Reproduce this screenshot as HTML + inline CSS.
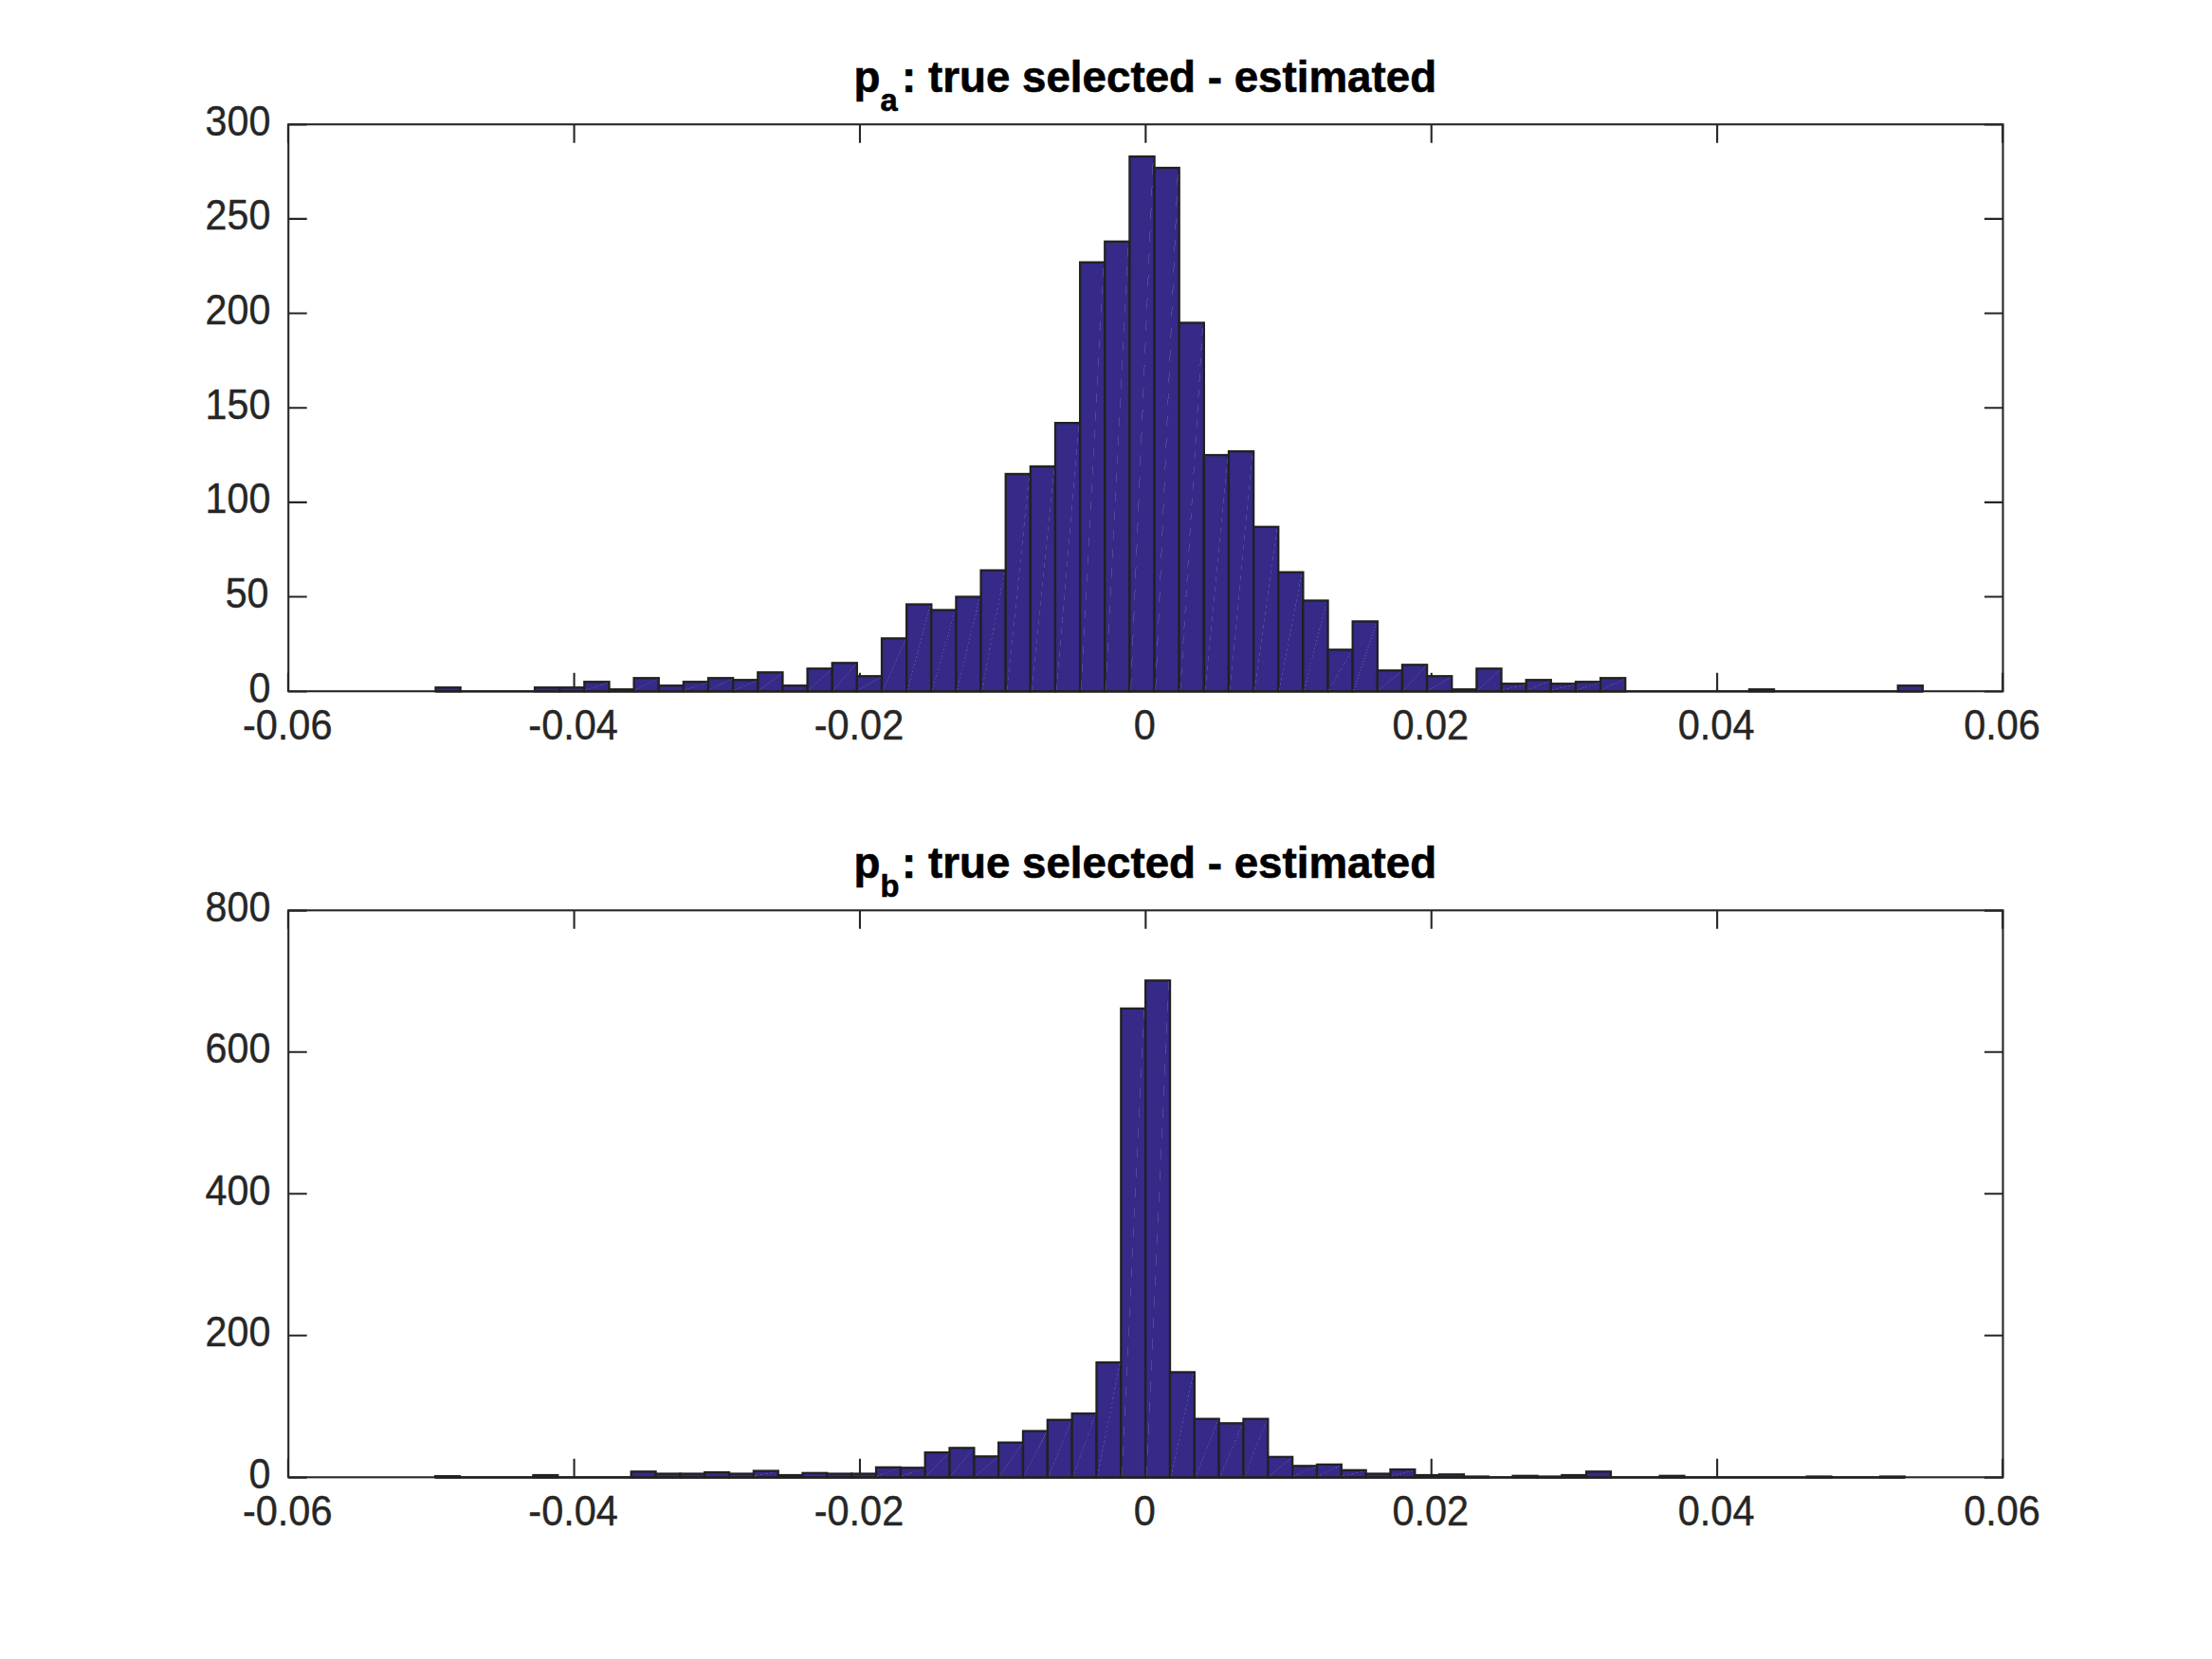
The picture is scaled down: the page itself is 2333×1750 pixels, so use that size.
<!DOCTYPE html>
<html lang="en"><head><meta charset="utf-8"><title>p_a, p_b: true selected - estimated</title>
<style>html,body{margin:0;padding:0;background:#fff}body{width:2333px;height:1750px;overflow:hidden}svg{display:block;font-family:"Liberation Sans",Arial,Helvetica,sans-serif}</style></head><body>
<svg width="2333" height="1750" viewBox="0 0 2333 1750">
<rect width="2333" height="1750" fill="#fff"/>
<g>
<path d="M605.58 729.2v-19.5M605.58 131.2v19.5M906.97 729.2v-19.5M906.97 131.2v19.5M1208.35 729.2v-19.5M1208.35 131.2v19.5M1509.73 729.2v-19.5M1509.73 131.2v19.5M1811.12 729.2v-19.5M1811.12 131.2v19.5M303.9 729.2v-19.5M303.9 131.2v19.5M2112.2 729.2v-19.5M2112.2 131.2v19.5M304.2 131.5h19.5M2112.5 131.5h-19.5M304.2 729.5h19.5M2112.5 729.5h-19.5M304.2 629.53h19.5M2112.5 629.53h-19.5M304.2 529.87h19.5M2112.5 529.87h-19.5M304.2 430.2h19.5M2112.5 430.2h-19.5M304.2 330.53h19.5M2112.5 330.53h-19.5M304.2 230.87h19.5M2112.5 230.87h-19.5" stroke="#262626" stroke-width="2.1" fill="none"/>
<rect x="304.2" y="131.2" width="1808.3" height="598" fill="none" stroke="#262626" stroke-width="2.1"/>
<g fill="#352a87" stroke="#212121" stroke-width="2.3" stroke-linejoin="miter">
<path d="M459.5 729.4h1568.4" fill="none"/>
<rect x="459.5" y="725.21" width="26.14" height="3.99"/>
<rect x="564.06" y="725.21" width="26.14" height="3.99"/>
<rect x="590.2" y="725.21" width="26.14" height="3.99"/>
<rect x="616.34" y="719.23" width="26.14" height="9.97"/>
<rect x="642.48" y="727.21" width="26.14" height="1.99"/>
<rect x="668.62" y="715.25" width="26.14" height="13.95"/>
<rect x="694.76" y="723.22" width="26.14" height="5.98"/>
<rect x="720.9" y="719.23" width="26.14" height="9.97"/>
<rect x="747.04" y="715.25" width="26.14" height="13.95"/>
<rect x="773.18" y="717.24" width="26.14" height="11.96"/>
<rect x="799.32" y="709.27" width="26.14" height="19.93"/>
<rect x="825.46" y="723.22" width="26.14" height="5.98"/>
<rect x="851.6" y="705.28" width="26.14" height="23.92"/>
<rect x="877.74" y="699.3" width="26.14" height="29.9"/>
<rect x="903.88" y="713.25" width="26.14" height="15.95"/>
<rect x="930.02" y="673.39" width="26.14" height="55.81"/>
<rect x="956.16" y="637.51" width="26.14" height="91.69"/>
<rect x="982.3" y="643.49" width="26.14" height="85.71"/>
<rect x="1008.44" y="629.53" width="26.14" height="99.67"/>
<rect x="1034.58" y="601.63" width="26.14" height="127.57"/>
<rect x="1060.72" y="499.97" width="26.14" height="229.23"/>
<rect x="1086.86" y="491.99" width="26.14" height="237.21"/>
<rect x="1113" y="446.15" width="26.14" height="283.05"/>
<rect x="1139.14" y="276.71" width="26.14" height="452.49"/>
<rect x="1165.28" y="254.79" width="26.14" height="474.41"/>
<rect x="1191.42" y="165.09" width="26.14" height="564.11"/>
<rect x="1217.56" y="177.05" width="26.14" height="552.15"/>
<rect x="1243.7" y="340.5" width="26.14" height="388.7"/>
<rect x="1269.84" y="480.03" width="26.14" height="249.17"/>
<rect x="1295.98" y="476.05" width="26.14" height="253.15"/>
<rect x="1322.12" y="555.78" width="26.14" height="173.42"/>
<rect x="1348.26" y="603.62" width="26.14" height="125.58"/>
<rect x="1374.4" y="633.52" width="26.14" height="95.68"/>
<rect x="1400.54" y="685.35" width="26.14" height="43.85"/>
<rect x="1426.68" y="655.45" width="26.14" height="73.75"/>
<rect x="1452.82" y="707.27" width="26.14" height="21.93"/>
<rect x="1478.96" y="701.29" width="26.14" height="27.91"/>
<rect x="1505.1" y="713.25" width="26.14" height="15.95"/>
<rect x="1531.24" y="727.21" width="26.14" height="1.99"/>
<rect x="1557.38" y="705.28" width="26.14" height="23.92"/>
<rect x="1583.52" y="721.23" width="26.14" height="7.97"/>
<rect x="1609.66" y="717.24" width="26.14" height="11.96"/>
<rect x="1635.8" y="721.23" width="26.14" height="7.97"/>
<rect x="1661.94" y="719.23" width="26.14" height="9.97"/>
<rect x="1688.08" y="715.25" width="26.14" height="13.95"/>
<rect x="1844.92" y="727.21" width="26.14" height="1.99"/>
<rect x="2001.76" y="723.22" width="26.14" height="5.98"/>
</g>
<g stroke="#fff" stroke-opacity="0.14" stroke-width="1" fill="none" shape-rendering="crispEdges">
<path d="M617.54 728L641.28 720.43" stroke-dasharray="1.65 1.65"/>
<path d="M669.82 728L693.56 716.45" stroke-dasharray="1.14 1.14"/>
<path d="M722.1 728L745.84 720.43" stroke-dasharray="1.65 1.65"/>
<path d="M748.24 728L771.98 716.45" stroke-dasharray="1.14 1.14"/>
<path d="M774.38 728L798.12 718.44" stroke-dasharray="1.34 1.34"/>
<path d="M800.52 728L824.26 710.47" shape-rendering="auto" stroke-width="0.8"/>
<path d="M852.8 728L876.54 706.48" shape-rendering="auto" stroke-width="0.8"/>
<path d="M878.94 728L902.68 700.5" shape-rendering="auto" stroke-width="0.8"/>
<path d="M905.08 728L928.82 714.45" shape-rendering="auto" stroke-width="0.8"/>
<path d="M931.22 728L954.96 674.59" stroke-dasharray="1.23 1.23"/>
<path d="M957.36 728L981.1 638.71" stroke-dasharray="1.95 1.95"/>
<path d="M983.5 728L1007.24 644.69" stroke-dasharray="1.82 1.82"/>
<path d="M1009.64 728L1033.38 630.73" stroke-dasharray="2.11 2.11"/>
<path d="M1035.78 728L1059.52 602.83" stroke-dasharray="2.68 2.68"/>
<path d="M1061.92 728L1085.66 501.17" stroke-dasharray="4.8 4.8"/>
<path d="M1088.06 728L1111.8 493.19" stroke-dasharray="4.97 4.97"/>
<path d="M1114.2 728L1137.94 447.35" stroke-dasharray="5.93 5.93"/>
<path d="M1140.34 728L1164.08 277.91" stroke-dasharray="9.49 9.49"/>
<path d="M1166.48 728L1190.22 255.99" stroke-dasharray="9.95 9.95"/>
<path d="M1192.62 728L1216.36 166.29" stroke-dasharray="11.84 11.84"/>
<path d="M1218.76 728L1242.5 178.25" stroke-dasharray="11.59 11.59"/>
<path d="M1244.9 728L1268.64 341.7" stroke-dasharray="8.15 8.15"/>
<path d="M1271.04 728L1294.78 481.23" stroke-dasharray="5.22 5.22"/>
<path d="M1297.18 728L1320.92 477.25" stroke-dasharray="5.3 5.3"/>
<path d="M1323.32 728L1347.06 556.98" stroke-dasharray="3.64 3.64"/>
<path d="M1349.46 728L1373.2 604.82" stroke-dasharray="2.64 2.64"/>
<path d="M1375.6 728L1399.34 634.72" stroke-dasharray="2.03 2.03"/>
<path d="M1401.74 728L1425.48 686.55" stroke-dasharray="1.01 1.01"/>
<path d="M1427.88 728L1451.62 656.65" stroke-dasharray="1.58 1.58"/>
<path d="M1454.02 728L1477.76 708.47" shape-rendering="auto" stroke-width="0.8"/>
<path d="M1480.16 728L1503.9 702.49" shape-rendering="auto" stroke-width="0.8"/>
<path d="M1506.3 728L1530.04 714.45" shape-rendering="auto" stroke-width="0.8"/>
<path d="M1558.58 728L1582.32 706.48" shape-rendering="auto" stroke-width="0.8"/>
<path d="M1584.72 728L1608.46 722.43" stroke-dasharray="2.19 2.19"/>
<path d="M1610.86 728L1634.6 718.44" stroke-dasharray="1.34 1.34"/>
<path d="M1637 728L1660.74 722.43" stroke-dasharray="2.19 2.19"/>
<path d="M1663.14 728L1686.88 720.43" stroke-dasharray="1.65 1.65"/>
<path d="M1689.28 728L1713.02 716.45" stroke-dasharray="1.14 1.14"/>
</g>
<g font-size="44.3" fill="#262626" stroke="#262626" stroke-width="0.4">
<g text-anchor="middle">
<text transform="translate(303.2 779.8) scale(0.936 1)">-0.06</text>
<text transform="translate(604.58 779.8) scale(0.936 1)">-0.04</text>
<text transform="translate(905.97 779.8) scale(0.936 1)">-0.02</text>
<text transform="translate(1207.35 779.8) scale(0.936 1)">0</text>
<text transform="translate(1508.73 779.8) scale(0.936 1)">0.02</text>
<text transform="translate(1810.12 779.8) scale(0.936 1)">0.04</text>
<text transform="translate(2111.5 779.8) scale(0.936 1)">0.06</text>
</g><g text-anchor="end">
<text transform="translate(285.3 740.8) scale(0.93 1)">0</text>
<text transform="translate(283.5 641.13) scale(0.93 1)">50</text>
<text transform="translate(285.3 541.47) scale(0.93 1)">100</text>
<text transform="translate(285.3 441.8) scale(0.93 1)">150</text>
<text transform="translate(285.3 342.13) scale(0.93 1)">200</text>
<text transform="translate(285.3 242.47) scale(0.93 1)">250</text>
<text transform="translate(285.3 142.8) scale(0.93 1)">300</text>
</g></g>
<g font-weight="bold" fill="#000" stroke="#000" stroke-width="0.6" font-size="46.2">
<text transform="translate(900.5 96.5) scale(0.99 1)">p</text>
<text transform="translate(928.5 116.7) scale(0.99 1)" font-size="33.0">a</text>
<text transform="translate(951 96.5) scale(0.99 1)">: true selected - estimated</text>
</g>
</g>
<g>
<path d="M605.58 1558.3v-19.5M605.58 960.3v19.5M906.97 1558.3v-19.5M906.97 960.3v19.5M1208.35 1558.3v-19.5M1208.35 960.3v19.5M1509.73 1558.3v-19.5M1509.73 960.3v19.5M1811.12 1558.3v-19.5M1811.12 960.3v19.5M303.9 1558.3v-19.5M303.9 960.3v19.5M2112.2 1558.3v-19.5M2112.2 960.3v19.5M304.2 960.6h19.5M2112.5 960.6h-19.5M304.2 1558.6h19.5M2112.5 1558.6h-19.5M304.2 1408.8h19.5M2112.5 1408.8h-19.5M304.2 1259.3h19.5M2112.5 1259.3h-19.5M304.2 1109.8h19.5M2112.5 1109.8h-19.5" stroke="#262626" stroke-width="2.1" fill="none"/>
<rect x="304.2" y="960.3" width="1808.3" height="598" fill="none" stroke="#262626" stroke-width="2.1"/>
<g fill="#352a87" stroke="#212121" stroke-width="2.3" stroke-linejoin="miter">
<path d="M459.1 1558.5h1549.8" fill="none"/>
<rect x="459.1" y="1557.18" width="25.83" height="1.12"/>
<rect x="562.42" y="1556.06" width="25.83" height="2.24"/>
<rect x="665.74" y="1552.32" width="25.83" height="5.98"/>
<rect x="691.57" y="1554.56" width="25.83" height="3.74"/>
<rect x="717.4" y="1554.56" width="25.83" height="3.74"/>
<rect x="743.23" y="1553.07" width="25.83" height="5.23"/>
<rect x="769.06" y="1554.56" width="25.83" height="3.74"/>
<rect x="794.89" y="1551.57" width="25.83" height="6.73"/>
<rect x="820.72" y="1556.06" width="25.83" height="2.24"/>
<rect x="846.55" y="1553.82" width="25.83" height="4.48"/>
<rect x="872.38" y="1554.56" width="25.83" height="3.74"/>
<rect x="898.21" y="1554.56" width="25.83" height="3.74"/>
<rect x="924.04" y="1547.84" width="25.83" height="10.46"/>
<rect x="949.87" y="1548.28" width="25.83" height="10.02"/>
<rect x="975.7" y="1532.14" width="25.83" height="26.16"/>
<rect x="1001.53" y="1527.35" width="25.83" height="30.95"/>
<rect x="1027.36" y="1536.32" width="25.83" height="21.98"/>
<rect x="1053.19" y="1521.67" width="25.83" height="36.63"/>
<rect x="1079.02" y="1509.56" width="25.83" height="48.74"/>
<rect x="1104.85" y="1497.75" width="25.83" height="60.55"/>
<rect x="1130.68" y="1491.02" width="25.83" height="67.28"/>
<rect x="1156.51" y="1437.2" width="25.83" height="121.1"/>
<rect x="1182.34" y="1063.83" width="25.83" height="494.47"/>
<rect x="1208.17" y="1034.3" width="25.83" height="524"/>
<rect x="1234" y="1447.45" width="25.83" height="110.85"/>
<rect x="1259.83" y="1496.71" width="25.83" height="61.59"/>
<rect x="1285.66" y="1501.34" width="25.83" height="56.96"/>
<rect x="1311.49" y="1496.71" width="25.83" height="61.59"/>
<rect x="1337.32" y="1536.85" width="25.83" height="21.45"/>
<rect x="1363.15" y="1546.34" width="25.83" height="11.96"/>
<rect x="1388.98" y="1544.85" width="25.83" height="13.45"/>
<rect x="1414.81" y="1550.83" width="25.83" height="7.47"/>
<rect x="1440.64" y="1554.56" width="25.83" height="3.74"/>
<rect x="1466.47" y="1550.08" width="25.83" height="8.22"/>
<rect x="1492.3" y="1556.06" width="25.83" height="2.24"/>
<rect x="1518.13" y="1555.31" width="25.83" height="2.99"/>
<rect x="1543.96" y="1557.55" width="25.83" height="0.75"/>
<rect x="1595.62" y="1556.81" width="25.83" height="1.49"/>
<rect x="1621.45" y="1557.55" width="25.83" height="0.75"/>
<rect x="1647.28" y="1556.06" width="25.83" height="2.24"/>
<rect x="1673.11" y="1552.32" width="25.83" height="5.98"/>
<rect x="1750.6" y="1556.81" width="25.83" height="1.49"/>
<rect x="1905.58" y="1557.55" width="25.83" height="0.75"/>
<rect x="1983.07" y="1557.55" width="25.83" height="0.75"/>
</g>
<g stroke="#fff" stroke-opacity="0.14" stroke-width="1" fill="none" shape-rendering="crispEdges">
<path d="M796.09 1557.1L819.52 1552.77" stroke-dasharray="2.75 2.75"/>
<path d="M925.24 1557.1L948.67 1549.04" stroke-dasharray="1.54 1.54"/>
<path d="M951.07 1557.1L974.5 1549.48" stroke-dasharray="1.62 1.62"/>
<path d="M976.9 1557.1L1000.33 1533.34" shape-rendering="auto" stroke-width="0.8"/>
<path d="M1002.73 1557.1L1026.16 1528.55" shape-rendering="auto" stroke-width="0.8"/>
<path d="M1028.56 1557.1L1051.99 1537.52" shape-rendering="auto" stroke-width="0.8"/>
<path d="M1054.39 1557.1L1077.82 1522.87" shape-rendering="auto" stroke-width="0.8"/>
<path d="M1080.22 1557.1L1103.65 1510.76" stroke-dasharray="1.11 1.11"/>
<path d="M1106.05 1557.1L1129.48 1498.95" stroke-dasharray="1.34 1.34"/>
<path d="M1131.88 1557.1L1155.31 1492.22" stroke-dasharray="1.47 1.47"/>
<path d="M1157.71 1557.1L1181.14 1438.4" stroke-dasharray="2.58 2.58"/>
<path d="M1183.54 1557.1L1206.97 1065.03" stroke-dasharray="10.51 10.51"/>
<path d="M1209.37 1557.1L1232.8 1035.5" stroke-dasharray="11.14 11.14"/>
<path d="M1235.2 1557.1L1258.63 1448.65" stroke-dasharray="2.37 2.37"/>
<path d="M1261.03 1557.1L1284.46 1497.91" stroke-dasharray="1.36 1.36"/>
<path d="M1286.86 1557.1L1310.29 1502.54" stroke-dasharray="1.27 1.27"/>
<path d="M1312.69 1557.1L1336.12 1497.91" stroke-dasharray="1.36 1.36"/>
<path d="M1338.52 1557.1L1361.95 1538.05" shape-rendering="auto" stroke-width="0.8"/>
<path d="M1364.35 1557.1L1387.78 1547.54" stroke-dasharray="1.32 1.32"/>
<path d="M1390.18 1557.1L1413.61 1546.05" stroke-dasharray="1.17 1.17"/>
<path d="M1416.01 1557.1L1439.44 1552.03" stroke-dasharray="2.36 2.36"/>
<path d="M1467.67 1557.1L1491.1 1551.28" stroke-dasharray="2.07 2.07"/>
</g>
<g font-size="44.3" fill="#262626" stroke="#262626" stroke-width="0.4">
<g text-anchor="middle">
<text transform="translate(303.2 1608.9) scale(0.936 1)">-0.06</text>
<text transform="translate(604.58 1608.9) scale(0.936 1)">-0.04</text>
<text transform="translate(905.97 1608.9) scale(0.936 1)">-0.02</text>
<text transform="translate(1207.35 1608.9) scale(0.936 1)">0</text>
<text transform="translate(1508.73 1608.9) scale(0.936 1)">0.02</text>
<text transform="translate(1810.12 1608.9) scale(0.936 1)">0.04</text>
<text transform="translate(2111.5 1608.9) scale(0.936 1)">0.06</text>
</g><g text-anchor="end">
<text transform="translate(285.3 1569.9) scale(0.93 1)">0</text>
<text transform="translate(285.3 1420.4) scale(0.93 1)">200</text>
<text transform="translate(285.3 1270.9) scale(0.93 1)">400</text>
<text transform="translate(285.3 1121.4) scale(0.93 1)">600</text>
<text transform="translate(285.3 971.9) scale(0.93 1)">800</text>
</g></g>
<g font-weight="bold" fill="#000" stroke="#000" stroke-width="0.6" font-size="46.2">
<text transform="translate(900.5 925.6) scale(0.99 1)">p</text>
<text transform="translate(928.5 945.8) scale(0.99 1)" font-size="33.0">b</text>
<text transform="translate(951 925.6) scale(0.99 1)">: true selected - estimated</text>
</g>
</g>
</svg></body></html>
